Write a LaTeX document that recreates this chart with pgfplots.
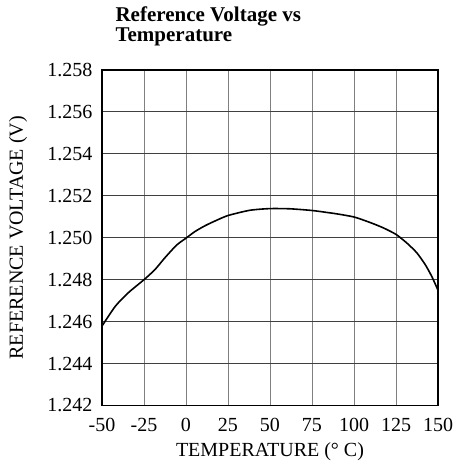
\documentclass[border=0pt]{standalone}
\usepackage{pgfplots}
\pgfplotsset{compat=1.18}
\usepackage{fontspec}
\setmainfont{Liberation Serif}
\begin{document}
\begin{tikzpicture}
\useasboundingbox (-102pt,-60.5pt) rectangle (357pt,405.5pt);
\begin{axis}[
  scale only axis,
  anchor=south west,
  at={(0pt,0pt)},
  width=336pt, height=335.5pt,
  xmin=-50, xmax=150, ymin=1.242, ymax=1.258,
  xtick={-50,-25,...,150},
  ytick={1.242,1.244,...,1.258},
  yticklabel style={/pgf/number format/fixed, /pgf/number format/fixed zerofill, /pgf/number format/precision=3},
  /pgf/number format/assume math mode=true,
  scaled y ticks=false,
  major tick length=0pt,
  grid=major,
  x grid style={line width=0.9pt, draw=black!50},
  y grid style={line width=0.9pt, draw=black!75},
  axis line style={line width=1.6pt},
  tick label style={font=\fontsize{20}{24}\selectfont},
  xticklabel style={yshift=-9pt},
  yticklabel style={xshift=-6pt},
  label style={font=\fontsize{20}{24}\selectfont},
  xlabel={TEMPERATURE (\textdegree\ C)},
  ylabel={REFERENCE VOLTAGE (V)},
  xlabel style={at={(axis description cs:0.5,-0.138)}, anchor=center},
  ylabel style={at={(axis description cs:-0.25,0.5)}, anchor=center, rotate=0},
  clip=false,
]
\addplot[line width=1.6pt, black, smooth, tension=0.4] coordinates {
(-50,1.24579) (-42,1.24674) (-34.3,1.24738) (-25,1.24800) (-18.5,1.24848)
(-12.5,1.24905) (-5.6,1.24965) (0,1.24998) (5.4,1.25030) (11.5,1.25058)
(17.3,1.25080) (25,1.25106) (38,1.25131) (50,1.25139) (62,1.25138)
(75,1.25130) (84.5,1.25120) (89.7,1.25114) (100,1.25099) (109.5,1.25073)
(117.5,1.25047) (125,1.25016) (131.3,1.24976) (137.3,1.24929) (142.3,1.24873)
(146.2,1.24817) (150,1.24750)
};
\node[anchor=base west, font=\fontsize{21}{20}\selectfont\bfseries] at ([xshift=10pt,yshift=48.3pt]rel axis cs:0,1) {Reference Voltage vs};
\node[anchor=base west, font=\fontsize{21}{20}\selectfont\bfseries] at ([xshift=10pt,yshift=28.3pt]rel axis cs:0,1) {Temperature};
\end{axis}
\end{tikzpicture}
\end{document}
